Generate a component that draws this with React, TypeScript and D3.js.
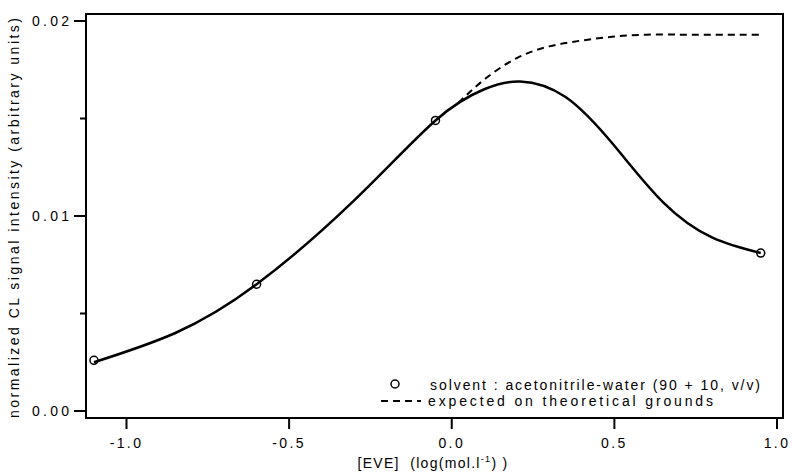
import React from "react";
import * as d3 from "d3";

const pointX = [-1.1, -0.6, -0.05, 0.95];
const pointY = [0.0026, 0.0065, 0.0149, 0.0081];

const curveX = [-1.1, -0.85, -0.6, -0.3, -0.05, 0.1, 0.21, 0.35, 0.5, 0.65, 0.8, 0.95];
const curveY = [0.0025, 0.0040, 0.0065, 0.0108, 0.0149, 0.0165, 0.0169, 0.0161, 0.0136, 0.0107, 0.0089, 0.0081];

const dashX = [0.02, 0.1, 0.2, 0.3, 0.4, 0.5, 0.6, 0.7, 0.8, 0.95];
const dashY = [0.0158, 0.0170, 0.0181, 0.0187, 0.0190, 0.0192, 0.0193, 0.0193, 0.0193, 0.0193];

const xTicks = [-1.0, -0.5, 0.0, 0.5, 1.0];
const xTickLabels = ["-1.0", "-0.5", "0.0", "0.5", "1.0"];
const yTicks = [0.0, 0.01, 0.02];
const yTickLabels = ["0.00", "0.01", "0.02"];
const yMinorTicks = [0.005, 0.015];

const legendItems = ["solvent : acetonitrile-water (90 + 10, v/v)", "expected on theoretical grounds"];

export default function App() {
  const W = 793, H = 476;
  const left = 86, right = 783, top = 14, bottom = 418;
  const x = d3.scaleLinear().domain([-1.0, 1.0]).range([126.5, 777]);
  const y = d3.scaleLinear().domain([0, 0.02]).range([411, 21]);
  const font = "'Liberation Sans', Arial, Helvetica, sans-serif";

  const line = d3.line<[number, number]>().x(d => x(d[0])).y(d => y(d[1])).curve(d3.curveNatural);
  const solid = line(curveX.map((v, i) => [v, curveY[i]] as [number, number])) || "";
  const dashed = line(dashX.map((v, i) => [v, dashY[i]] as [number, number])) || "";

  return (
    <svg width={W} height={H} style={{ position: "absolute", left: 0, top: 0, background: "#fff" }}>
      <rect x={0} y={0} width={W} height={H} fill="#fff" />
      <rect x={left} y={top} width={right - left} height={bottom - top} fill="none" stroke="#000" strokeWidth={2} />
      {yTicks.map((t, i) => (
        <g key={"yt" + i}>
          <line x1={left - 12} x2={left} y1={y(t)} y2={y(t)} stroke="#000" strokeWidth={2} />
          <text x={69} y={y(t)} dy="0.36em" textAnchor="end" fontFamily={font} fontSize={14} textLength={37} lengthAdjust="spacing">{yTickLabels[i]}</text>
        </g>
      ))}
      {yMinorTicks.map((t, i) => (
        <line key={"ym" + i} x1={left - 6} x2={left} y1={y(t)} y2={y(t)} stroke="#000" strokeWidth={2} />
      ))}
      {xTicks.map((t, i) => (
        <g key={"xt" + i}>
          <line x1={x(t)} x2={x(t)} y1={bottom} y2={bottom + 11} stroke="#000" strokeWidth={2} />
          <text x={x(t)} y={448} textAnchor="middle" fontFamily={font} fontSize={14} letterSpacing={2.4}>{xTickLabels[i]}</text>
        </g>
      ))}
      <text x={433} y={468} textAnchor="middle" fontFamily={font} fontSize={14} letterSpacing={1.3}>
        [EVE]{"\u00a0\u00a0"}(log(mol.l<tspan dy={-6} fontSize={9}>-1</tspan><tspan dy={6}>) )</tspan>
      </text>
      <text transform={`translate(19,${218}) rotate(-90)`} textAnchor="middle" fontFamily={font} fontSize={14} textLength={400} lengthAdjust="spacing">
        normalized CL signal intensity (arbitrary units)
      </text>
      <path d={dashed} fill="none" stroke="#000" strokeWidth={2} strokeDasharray="7,5" />
      <path d={solid} fill="none" stroke="#000" strokeWidth={2.5} />
      {pointX.map((v, i) => (
        <circle key={"p" + i} cx={x(v)} cy={y(pointY[i])} r={4} fill="none" stroke="#000" strokeWidth={1.5} />
      ))}
      <circle cx={395} cy={384} r={4} fill="none" stroke="#000" strokeWidth={1.5} />
      <text x={430} y={385} dy="0.36em" fontFamily={font} fontSize={14} textLength={330} lengthAdjust="spacing">{legendItems[0]}</text>
      <line x1={381} x2={421} y1={401} y2={401} stroke="#000" strokeWidth={2} strokeDasharray="7,5" />
      <text x={428} y={401} dy="0.36em" fontFamily={font} fontSize={14} textLength={285} lengthAdjust="spacing">{legendItems[1]}</text>
    </svg>
  );
}
